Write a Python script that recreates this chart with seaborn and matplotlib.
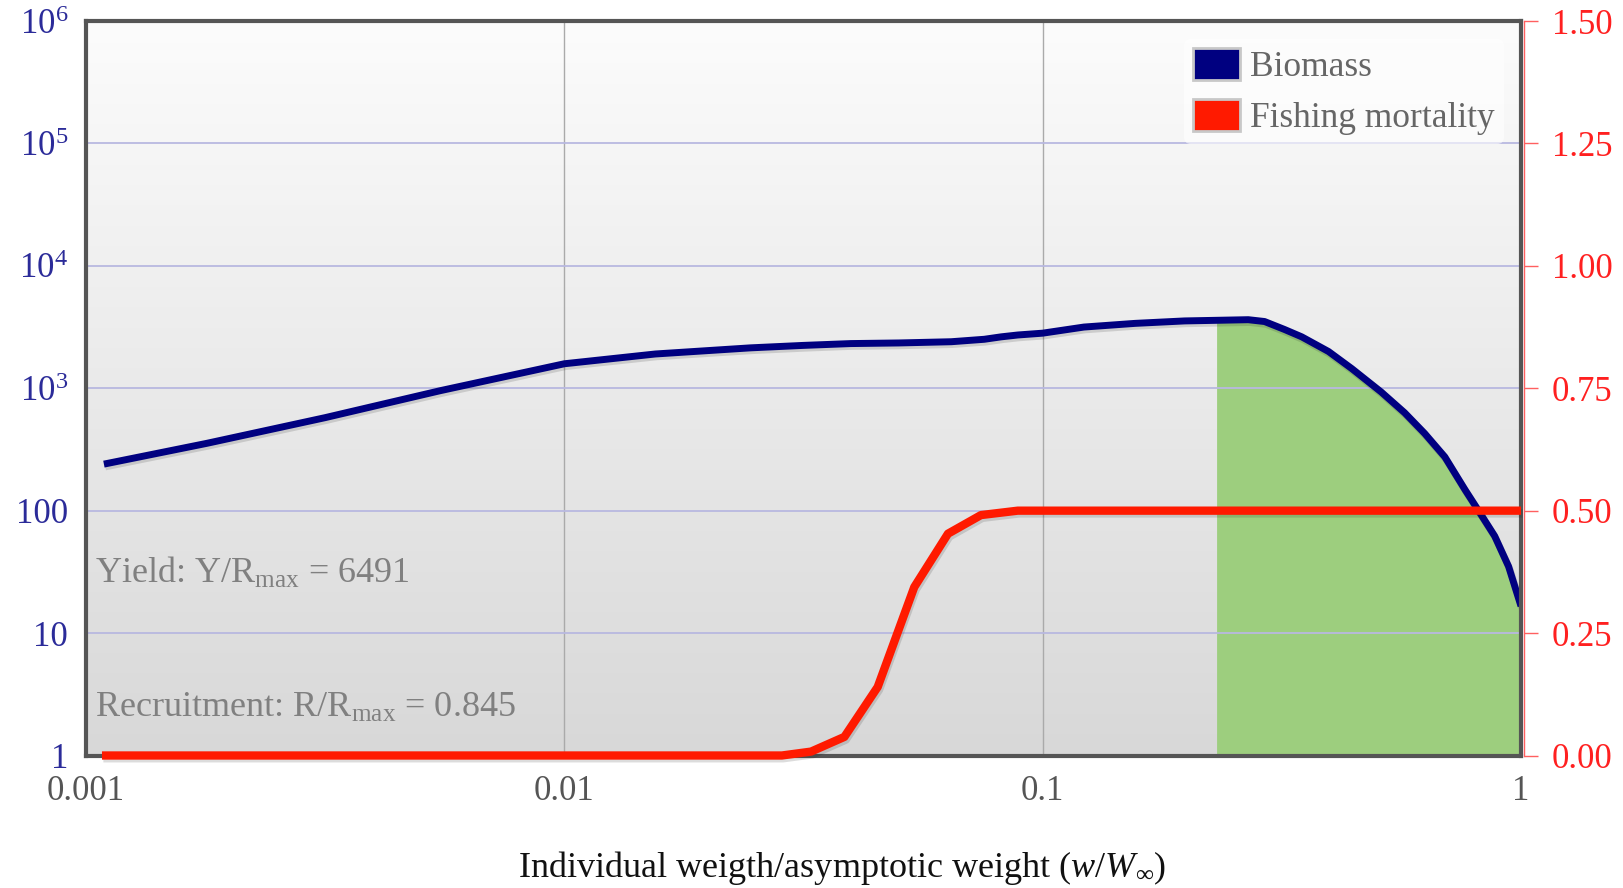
import numpy as np
import matplotlib
matplotlib.use("Agg")
import matplotlib.pyplot as plt
import seaborn as sns
import pandas as pd
from matplotlib.patches import Patch
from matplotlib.colors import LinearSegmentedColormap
import matplotlib.patheffects as pe

# ---------------- data ----------------
weight = [0.00109, 0.00179, 0.00316, 0.0055, 0.01, 0.0155, 0.0245, 0.0316, 0.0397,
          0.05, 0.0644, 0.0755, 0.0819, 0.0887, 0.1, 0.122, 0.156, 0.198, 0.231,
          0.269, 0.291, 0.3204, 0.348, 0.396, 0.443, 0.51, 0.571, 0.629, 0.693,
          0.764, 0.815, 0.881, 0.942, 1.0]
biomass = [240, 355, 575, 955, 1585, 1905, 2138, 2239, 2317,
           2344, 2399, 2512, 2630, 2723, 2818, 3162, 3388, 3548, 3589,
           3631, 3508, 3020, 2630, 1995, 1445, 933, 631, 427, 275,
           148, 100, 62, 35, 16.6]

f_weight = [0.00108, 0.0285, 0.0328, 0.0385, 0.0452, 0.0539, 0.0634, 0.0743, 0.0887, 1.0]
fishing_mortality = [0.0, 0.0, 0.008, 0.038, 0.14, 0.344, 0.453, 0.491, 0.5, 0.5]

yield_start = 0.231

x_ticks = [0.001, 0.01, 0.1, 1]
x_tick_labels = ["0.001", "0.01", "0.1", "1"]
y_ticks = [1, 10, 100, 1e3, 1e4, 1e5, 1e6]
y_tick_labels = ["1", "10", "100", r"$10^{3}$", r"$10^{4}$", r"$10^{5}$", r"$10^{6}$"]
f_ticks = [0.0, 0.25, 0.5, 0.75, 1.0, 1.25, 1.5]
f_tick_labels = ["0.00", "0.25", "0.50", "0.75", "1.00", "1.25", "1.50"]

yield_text = r"Yield: Y/R$_\mathregular{max}$ = 6491"
recruit_text = r"Recruitment: R/R$_\mathregular{max}$ = 0.845"
x_label = r"Individual weigth/asymptotic weight ($w/W_\infty$)"

# ---------------- style ----------------
sns.set_theme(style="white")
plt.rcParams["font.family"] = ["Liberation Serif", "DejaVu Serif"]
plt.rcParams["mathtext.fontset"] = "custom"
plt.rcParams["mathtext.rm"] = "Liberation Serif"
plt.rcParams["mathtext.it"] = "Liberation Serif:italic"
plt.rcParams["mathtext.bf"] = "Liberation Serif:bold"

W, H = 1623, 888
fig = plt.figure(figsize=(W / 100, H / 100), dpi=100)
fig.patch.set_facecolor("white")
L, R, T, B = 86, 1521, 21, 755.5
rect = [L / W, 1 - B / H, (R - L) / W, (B - T) / H]

# gradient background
bg = fig.add_axes(rect, zorder=-1)
grad = np.linspace(0, 1, 256).reshape(-1, 1)
cmap = LinearSegmentedColormap.from_list("bg", ["#fcfcfc", "#d8d8d8"])
bg.imshow(grad, aspect="auto", cmap=cmap, extent=[0, 1, 0, 1], origin="upper")
bg.set_xlim(0, 1)
bg.set_ylim(0, 1)
bg.axis("off")

ax = fig.add_axes(rect, zorder=1)
ax.set_facecolor("none")
ax.set_xscale("log")
ax.set_yscale("log")
ax.set_xlim(0.001, 1)
ax.set_ylim(1, 1e6)

df_b = pd.DataFrame({"weight": weight, "biomass": biomass})
df_f = pd.DataFrame({"weight": f_weight, "F": fishing_mortality})

mask = df_b["weight"] >= yield_start
ax.fill_between(df_b["weight"][mask], df_b["biomass"][mask], 1,
                color="#9dce7e", lw=0, zorder=1)

sns.lineplot(data=df_b, x="weight", y="biomass", ax=ax, color="#000080",
             lw=5, estimator=None, sort=False, zorder=2)
bl = ax.lines[-1]
bl.set_solid_capstyle("butt")
bl.set_solid_joinstyle("round")
bl.set_path_effects([pe.SimpleLineShadow(offset=(1, -2), alpha=0.15), pe.Normal()])

ax.set_xticks(x_ticks)
ax.set_xticklabels(x_tick_labels)
ax.set_yticks(y_ticks)
ax.set_yticklabels(y_tick_labels)
ax.minorticks_off()

ax.set_axisbelow("line")
ax.yaxis.grid(True, color="#b8b8e0", lw=1.3)
ax.xaxis.grid(True, color="#aaaaaa", lw=1.0)

for s in ax.spines.values():
    s.set_color("#555555")
    s.set_linewidth(3)

ax.tick_params(axis="y", length=0, pad=13, labelsize=25, labelcolor="#2b2b99")
ax.tick_params(axis="x", length=0, pad=14, labelsize=25, labelcolor="#555555")

ax.set_xlabel(x_label, fontsize=26, color="#111111")
ax.set_ylabel("")
ax.xaxis.set_label_coords(0.527, -0.153)
ax.xaxis.label.set_va("center")

ax.text(0.0063, 0.235, yield_text, transform=ax.transAxes, fontsize=26,
        color="#808080", va="baseline", ha="left")
ax.text(0.0063, 0.0524, recruit_text, transform=ax.transAxes, fontsize=26,
        color="#808080", va="baseline", ha="left")

handles = [Patch(facecolor="#000080", edgecolor="#c8c8c8", lw=2, label="Biomass"),
           Patch(facecolor="#ff1a00", edgecolor="#c8c8c8", lw=2, label="Fishing mortality")]
leg = ax.legend(handles=handles, loc="upper right", bbox_to_anchor=(0.988, 0.975),
                fontsize=25.5, frameon=True, handlelength=1.33, handleheight=1.0,
                handletextpad=0.3, labelspacing=0.42, borderpad=0.25, borderaxespad=0)
leg.get_frame().set_facecolor("white")
leg.get_frame().set_alpha(0.6)
leg.get_frame().set_edgecolor("none")
for t in leg.get_texts():
    t.set_color("#666666")

# secondary axis: fishing mortality
ax2 = ax.twinx()
ax2.set_zorder(2)
ax2.set_ylim(0, 1.5)
sns.lineplot(data=df_f, x="weight", y="F", ax=ax2, color="#ff1a00",
             lw=6, estimator=None, sort=False)
rl = ax2.lines[-1]
rl.set_clip_on(False)
rl.set_solid_capstyle("butt")
rl.set_path_effects([pe.SimpleLineShadow(offset=(1, -2), alpha=0.15), pe.Normal()])
ax2.set_xlim(0.001, 1)
ax2.set_ylim(0, 1.5)
ax2.set_yticks(f_ticks)
ax2.set_yticklabels(f_tick_labels)
ax2.set_ylabel("")
ax2.grid(False)
for k in ["left", "top", "bottom"]:
    ax2.spines[k].set_visible(False)
ax2.spines["right"].set_position(("outward", 2))
ax2.spines["right"].set_color("#ff6060")
ax2.spines["right"].set_linewidth(1)
ax2.tick_params(axis="y", length=10, width=1, color="#ff6060", pad=10,
                labelsize=25, labelcolor="#ff2020", direction="out")

fig.savefig("out.png", dpi=100)
